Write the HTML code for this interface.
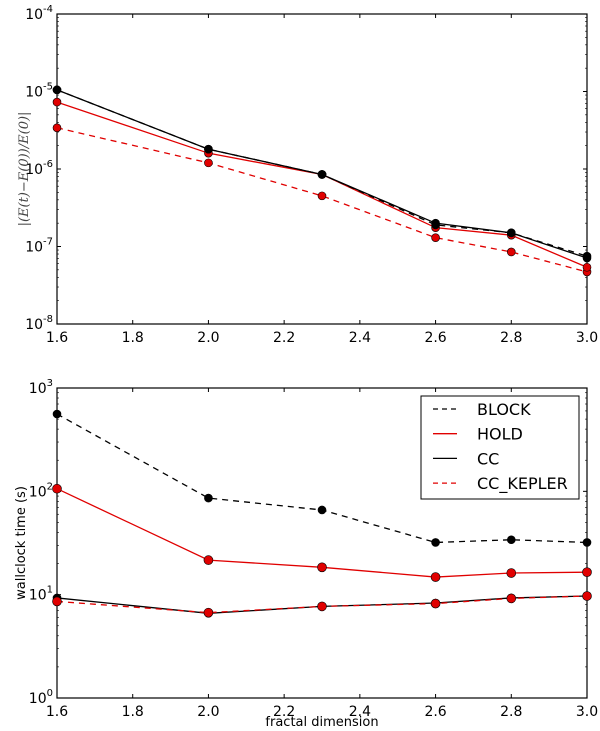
<!DOCTYPE html>
<html><head><meta charset="utf-8"><style>
body{margin:0;background:#fff}
svg{display:block;font-family:"DejaVu Sans","Liberation Sans",sans-serif}
</style></head><body>
<svg id="c" width="600" height="731" xmlns="http://www.w3.org/2000/svg"></svg>
<script>
const xs=[1.6,2.0,2.3,2.6,2.8,3.0];
const xTicks=[1.6,1.8,2.0,2.2,2.4,2.6,2.8,3.0];
const errBlock=[1.05e-5,1.8e-6,8.5e-7,1.9e-7,1.5e-7,7.5e-8];
const errHold=[7.3e-6,1.6e-6,8.5e-7,1.75e-7,1.4e-7,5.4e-8];
const errCC=[1.05e-5,1.8e-6,8.5e-7,2.0e-7,1.5e-7,7.1e-8];
const errKepler=[3.4e-6,1.2e-6,4.5e-7,1.3e-7,8.5e-8,4.7e-8];
const timeBlock=[560,86,66,32,34,32];
const timeHold=[106,21.6,18.4,14.8,16.2,16.5];
const timeCC=[9.3,6.6,7.7,8.3,9.3,9.7];
const timeKepler=[8.6,6.7,7.7,8.2,9.2,9.7];
const legendLabels=["BLOCK","HOLD","CC","CC_KEPLER"];
const NS="http://www.w3.org/2000/svg";
const svg=document.getElementById('c');
function mk(t,a,p){const e=document.createElementNS(NS,t);for(const k in a)e.setAttribute(k,a[k]);(p||svg).appendChild(e);return e;}
const L=57,R=587;
const X=v=>L+(v-1.6)/(1.4)*(R-L);
function panel(top,bot,dmin,dmax,name){
  const Y=v=>bot-(Math.log10(v)-dmin)/(dmax-dmin)*(bot-top);
  const g=mk('g',{});
  
  
  for(let d=dmin;d<dmax;d++)for(let m=2;m<=9;m++){const y=Y(m*Math.pow(10,d));
    mk('line',{x1:L,x2:L+2,y1:y,y2:y,stroke:'#000','stroke-width':0.6},g);
    mk('line',{x1:R,x2:R-2,y1:y,y2:y,stroke:'#000','stroke-width':0.6},g);}
  for(let d=dmin;d<=dmax;d++){const y=Y(Math.pow(10,d));
    mk('line',{x1:L,x2:L+4,y1:y,y2:y,stroke:'#000'},g);
    mk('line',{x1:R,x2:R-4,y1:y,y2:y,stroke:'#000'},g);
    const t=mk('text',{x:L-4,y:y+5,'text-anchor':'end','font-size':14},g);
    
    
    t.innerHTML='10<tspan dy="-7" font-size="10">'+d+'</tspan>';}
  xTicks.forEach(v=>{const x=X(v);
    mk('line',{x1:x,x2:x,y1:bot,y2:bot-4,stroke:'#000'},g);
    mk('line',{x1:x,x2:x,y1:top,y2:top+4,stroke:'#000'},g);
    const t=mk('text',{x:x,y:bot+18,'text-anchor':'middle','font-size':14},g);
    
    
    t.textContent=v.toFixed(1);});
  mk('rect',{x:L,y:top,width:R-L,height:bot-top,fill:'none',stroke:'#000','stroke-width':1.2},g);
  return Y;
}
function series(Y,vals,color,dash,name,ms){
  const g=mk('g',{});
  
  
  mk('polyline',{points:vals.map((v,i)=>X(xs[i])+','+Y(v)).join(' '),fill:'none',stroke:color,'stroke-width':1.3,'stroke-dasharray':dash?'6,5':'none'},g);
  vals.forEach((v,i)=>{const c=mk('circle',{cx:X(xs[i]),cy:Y(v),r:ms,fill:color,stroke:'#000','stroke-width':0.6},g);
    
    });
}
const Y1=panel(14,324,-8,-4,'energy-error-panel');
series(Y1,errKepler,'#e00000',true,'cc-kepler-error',4);
series(Y1,errHold,'#e00000',false,'hold-error',4);
series(Y1,errBlock,'#000',true,'block-error',4);
series(Y1,errCC,'#000',false,'cc-error',4);
const Y2=panel(388,698,0,3,'wallclock-panel');
series(Y2,timeBlock,'#000',true,'block-time',4);
series(Y2,timeHold,'#e00000',false,'hold-time',4.5);
series(Y2,timeCC,'#000',false,'cc-time',4);
series(Y2,timeKepler,'#e00000',true,'cc-kepler-time',4.5);
let t=mk('text',{x:0,y:0,transform:'translate(28,169) rotate(-90)','text-anchor':'middle','font-size':13,'font-family':'DejaVu Serif,serif','font-style':'italic',fill:'#444'});


t.textContent='|(E(t)−E(0))/E(0)|';
t=mk('text',{x:0,y:0,transform:'translate(25,543) rotate(-90)','text-anchor':'middle','font-size':13});


t.textContent='wallclock time (s)';
t=mk('text',{x:322,y:726,'text-anchor':'middle','font-size':13});


t.textContent='fractal dimension';
const lg=mk('g',{});


mk('rect',{x:421,y:396,width:158,height:103,fill:'#fff',stroke:'#000'},lg);
const lc=['#000','#e00000','#000','#e00000'],ld=[true,false,false,true];
legendLabels.forEach((s,i)=>{const y=409+i*24.7;
  const e=mk('g',{},lg);
  
  
  mk('line',{x1:433,x2:457,y1:y,y2:y,stroke:lc[i],'stroke-width':1.3,'stroke-dasharray':ld[i]?'5,4':'none'},e);
  const tt=mk('text',{x:477,y:y+6,'font-size':16},e);tt.textContent=s;});
</script>
</body></html>
